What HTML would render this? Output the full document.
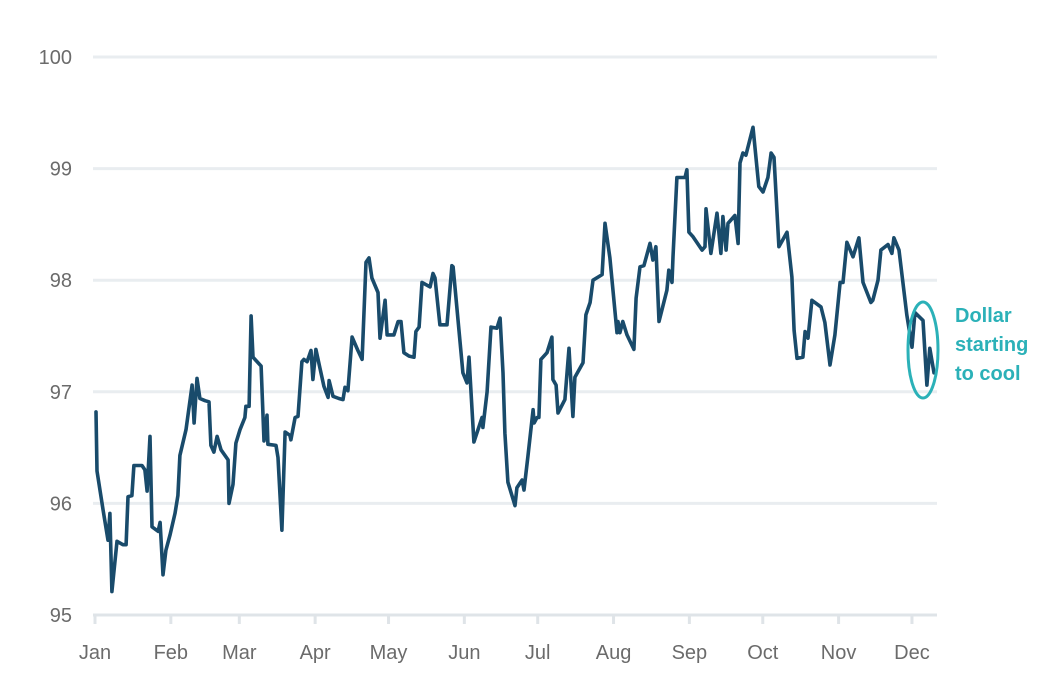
<!DOCTYPE html>
<html><head><meta charset="utf-8"><style>
body{margin:0;background:#fff;width:1053px;height:683px;overflow:hidden;font-family:"Liberation Sans",sans-serif}
svg{display:block}
</style></head><body>
<svg id="chart" width="1053" height="683" viewBox="0 0 1053 683"></svg>
<script>
const days=[0.4,0.8,3.3,5.3,6.1,6.9,9.0,11.4,12.7,13.5,15.1,15.9,19.2,20.4,21.3,22.5,23.3,25.8,26.6,27.8,29.0,30.7,32.7,33.9,34.7,37.2,39.7,40.5,41.7,42.9,45.0,46.6,47.4,48.6,49.9,51.5,54.4,54.8,56.4,57.6,59.3,61.3,61.7,63.0,63.8,64.6,67.9,69.1,70.3,70.7,74.0,74.8,76.4,77.7,79.7,80.1,81.8,83.0,84.6,85.4,86.7,88.3,89.1,90.3,92.0,93.6,95.3,95.7,97.3,99.7,101.4,102.2,103.4,105.1,107.5,109.2,110.8,112.0,113.2,115.7,116.5,118.6,119.4,122.2,123.9,125.1,126.3,128.4,130.4,131.2,132.5,133.7,137.0,138.2,139.0,141.0,143.9,145.9,146.4,150.4,152.1,152.9,154.9,156.6,158.2,158.6,160.3,161.9,164.3,165.6,166.8,167.6,168.8,171.7,172.5,174.6,175.4,177.0,179.1,179.5,180.7,181.5,182.3,184.8,186.8,187.2,188.5,189.3,192.1,193.8,195.4,196.2,199.5,200.7,202.4,203.6,207.3,208.5,210.5,213.4,213.8,214.6,215.8,217.5,220.3,221.2,222.8,224.4,226.9,228.1,229.3,230.6,233.8,234.6,235.9,236.3,237.9,241.2,242.0,242.8,244.5,248.2,249.4,249.8,251.8,254.3,255.9,256.7,258.0,258.8,261.6,262.9,263.7,264.9,266.1,269.0,271.4,273.1,275.1,276.4,277.6,279.6,282.9,284.9,285.8,287.0,289.4,290.3,291.5,293.1,296.8,298.4,300.5,302.5,304.6,305.8,307.4,309.9,312.3,314.0,317.2,318.0,320.1,321.3,324.2,325.8,326.6,328.7,331.9,334.0,335.2,338.5,340.1,341.3,343.0];
const values=[96.82,96.29,95.94,95.67,95.91,95.21,95.66,95.63,95.63,96.06,96.07,96.34,96.34,96.30,96.11,96.60,95.79,95.75,95.83,95.36,95.58,95.72,95.91,96.07,96.43,96.66,97.06,96.72,97.12,96.94,96.92,96.91,96.52,96.46,96.60,96.48,96.39,96.00,96.17,96.54,96.66,96.77,96.87,96.87,97.68,97.31,97.23,96.56,96.79,96.53,96.52,96.41,95.76,96.64,96.61,96.57,96.77,96.78,97.27,97.29,97.27,97.37,97.11,97.38,97.21,97.05,96.95,97.10,96.96,96.94,96.93,97.04,97.01,97.49,97.37,97.29,98.16,98.20,98.02,97.89,97.48,97.82,97.51,97.51,97.63,97.63,97.35,97.32,97.31,97.54,97.58,97.98,97.94,98.06,98.02,97.60,97.60,98.13,98.12,97.17,97.08,97.31,96.55,96.66,96.77,96.68,97.00,97.58,97.57,97.66,97.17,96.63,96.19,95.98,96.14,96.21,96.12,96.42,96.84,96.72,96.77,96.77,97.29,97.35,97.49,97.11,97.06,96.81,96.93,97.39,96.78,97.13,97.26,97.69,97.80,98.00,98.05,98.51,98.20,97.53,97.63,97.53,97.63,97.51,97.38,97.84,98.12,98.13,98.33,98.18,98.30,97.63,97.91,98.09,97.98,98.21,98.92,98.92,98.99,98.43,98.39,98.27,98.30,98.64,98.24,98.60,98.24,98.57,98.27,98.51,98.58,98.33,99.05,99.14,99.12,99.37,98.84,98.79,98.92,99.14,99.10,98.30,98.43,98.03,97.55,97.30,97.31,97.54,97.48,97.82,97.76,97.62,97.24,97.51,97.98,97.98,98.34,98.21,98.38,97.98,97.80,97.82,98.00,98.27,98.32,98.24,98.38,98.27,97.69,97.40,97.71,97.64,97.06,97.39,97.17];
const yTicks=[95,96,97,98,99,100];
const monthLabels=["Jan","Feb","Mar","Apr","May","Jun","Jul","Aug","Sep","Oct","Nov","Dec"];
const monthDays=[0,31,59,90,120,151,181,212,243,273,304,334];

const NS="http://www.w3.org/2000/svg";
const svg=document.getElementById('chart');
const xS=d=>95+d*2.446;
const yS=v=>57+(100-v)*111.6;
function mk(tag,attrs,parent){const e=document.createElementNS(NS,tag);for(const k in attrs)e.setAttribute(k,attrs[k]);(parent||svg).appendChild(e);return e;}

const grid=mk('g',{});


yTicks.forEach(t=>{
  const l=mk('line',{x1:93,x2:937,y1:yS(t),y2:yS(t),stroke:t===95?'#dfe4e8':'#e9edf0','stroke-width':3},grid);
  
  
  const tx=mk('text',{x:72,y:yS(t)+7,'text-anchor':'end','font-size':20,fill:'#6b6b6b'});
  tx.textContent=t;
  
  
});
monthLabels.forEach((m,i)=>{
  const x=xS(monthDays[i]);
  const tk=mk('line',{x1:x,x2:x,y1:615,y2:624,stroke:'#dfe4e8','stroke-width':3});
  
  
  const tx=mk('text',{x:x,y:659,'text-anchor':'middle','font-size':20,fill:'#6b6b6b'});
  tx.textContent=m;
  
  
});
const pts=days.map((d,i)=>xS(d).toFixed(1)+','+yS(values[i]).toFixed(1)).join(' ');
const line=mk('polyline',{points:pts,fill:'none',stroke:'#194b6b','stroke-width':3.6,'stroke-linejoin':'round','stroke-linecap':'round'});


const el=mk('ellipse',{cx:923,cy:350,rx:15,ry:48,fill:'none',stroke:'#2bb1b8','stroke-width':3});


const ann=mk('text',{x:955,'font-size':20,'font-weight':'bold',fill:'#2bb1b8'});


[["Dollar",322],["starting",351],["to cool",380]].forEach(([s,y])=>{const t=mk('tspan',{x:955,y:y},ann);t.textContent=s;});
</script>
</body></html>
